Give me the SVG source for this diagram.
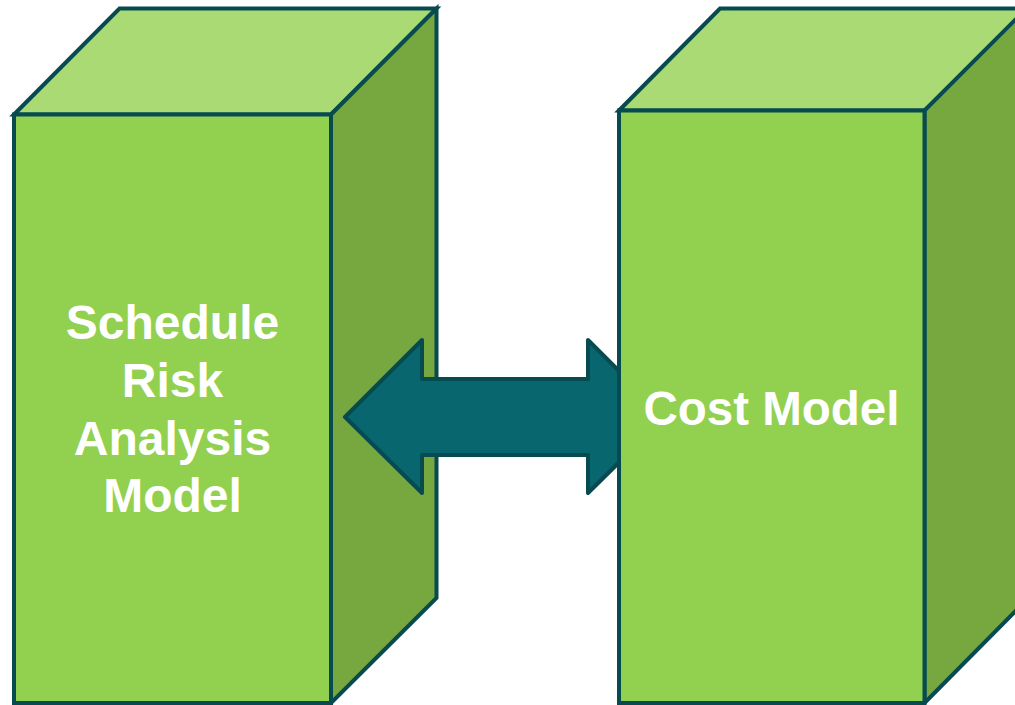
<svg xmlns="http://www.w3.org/2000/svg" width="1015" height="705" viewBox="0 0 1015 705">
<style>
.edge{stroke:#074A50;stroke-width:4;stroke-linejoin:miter}
.front{fill:#92D050}
.top{fill:#A9DA74}
.side{fill:#77A83F}
.arrow{fill:#08666E;stroke:#074A50;stroke-width:4;stroke-linejoin:round}
.lbl{font-family:"Liberation Sans",Arial,sans-serif;font-weight:bold;font-size:48px;fill:#FFFFFF;text-anchor:middle}
</style>
<rect width="1015" height="705" fill="#FFFFFF"/>
<g id="schedule-risk-analysis-model">
<polygon class="top edge" points="14,114.5 119.5,8.5 436.5,8.5 331,114.5"/>
<polygon class="side edge" points="331,114.5 436.5,8.5 436.5,598 331,703"/>
<rect class="front edge" x="14" y="114.5" width="317" height="588.5"/>
<text class="lbl" x="172.5" y="339">Schedule</text>
<text class="lbl" x="172.5" y="397">Risk</text>
<text class="lbl" x="172.5" y="455">Analysis</text>
<text class="lbl" x="172.5" y="512">Model</text>
</g>
<g id="connectors">
<polygon class="arrow" points="345,417 422,340 422,379 588,379 588,340 665,417 588,493 588,455 422,455 422,493"/>
</g>
<g id="cost-model">
<polygon class="top edge" points="619,110.5 720,8.5 1040,8.5 924.5,110.5"/>
<polygon class="side edge" points="924.5,110.5 1026.5,8.5 1026.5,600 924.5,703"/>
<rect class="front edge" x="619" y="110.5" width="305.5" height="592.5"/>
<text class="lbl" x="771.5" y="425" style="font-size:47.5px">Cost Model</text>
</g>
</svg>
